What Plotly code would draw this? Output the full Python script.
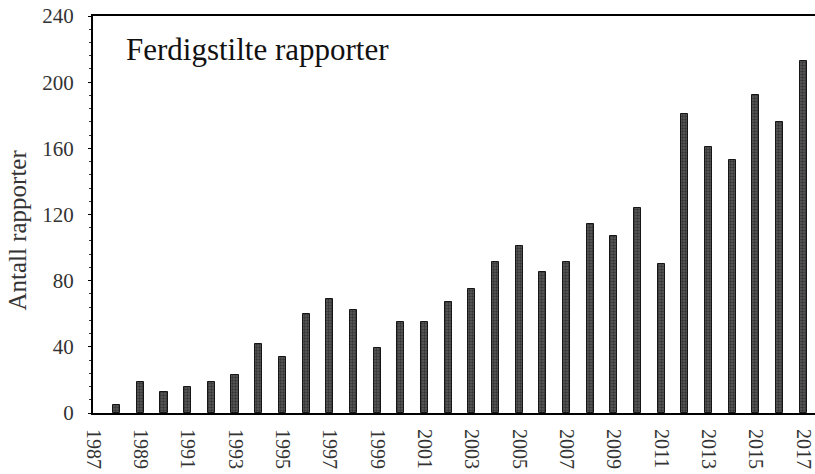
import plotly.graph_objects as go

years = list(range(1988, 2018))
reports = [5, 19, 13, 16, 19, 23, 42, 34, 60, 69, 62, 39,
           55, 55, 67, 75, 91, 101, 85, 91, 114, 107, 124, 90,
           181, 161, 153, 192, 176, 213]
tick_years = list(range(1987, 2018, 2))
title_text = "Ferdigstilte rapporter"
y_title = "Antall rapporter"

FONT = "Liberation Serif, Times New Roman, serif"

fig = go.Figure()
fig.add_trace(go.Bar(
    x=years, y=reports, width=0.3,
    marker=dict(color="#404040",
                line=dict(color="#151515", width=1),
                pattern=dict(shape=".", fgcolor="#0d0d0d", bgcolor="#5c5c5c",
                             size=3, solidity=0.5)),
))

fig.update_layout(
    width=815, height=474,
    margin=dict(l=93, r=0, t=16, b=61, autoexpand=False),
    paper_bgcolor="white", plot_bgcolor="white",
    showlegend=False,
    font=dict(family=FONT, color="#222222"),
    bargap=0,
)
fig.update_xaxes(
    range=[1987, 2017.5], tickmode="array", tickvals=tick_years,
    ticktext=[str(v) for v in tick_years], tickangle=90,
    tickfont=dict(size=20, family=FONT, color="#333333"),
    showline=True, linecolor="black", linewidth=2, mirror=True,
    showgrid=False, zeroline=False, ticks="", ticklabelstandoff=10,
    automargin=False,
)
fig.update_yaxes(
    range=[0, 240], dtick=40, tick0=0,
    tickfont=dict(size=21, family=FONT, color="#333333"),
    showline=True, linecolor="black", linewidth=2,
    showgrid=False, zeroline=False,
    ticks="outside", ticklen=3, tickcolor="black", tickwidth=1,
    ticklabelstandoff=10,
    minor=dict(dtick=8, ticks="outside", ticklen=2, tickcolor="#333333", tickwidth=1),
    automargin=False,
)
fig.add_annotation(
    x=0.043, y=0.915, xref="paper", yref="paper", xanchor="left", yanchor="middle",
    text=title_text, showarrow=False,
    font=dict(size=31, family=FONT, color="#111111"),
)
fig.add_annotation(
    x=-0.105, y=0.46, xref="paper", yref="paper", xanchor="center", yanchor="middle",
    text=y_title, textangle=-90, showarrow=False,
    font=dict(size=25, family=FONT, color="#333333"),
)

fig.write_html(
    "out.html",
    config={"displayModeBar": False},
    post_script="document.body.style.margin='0';document.body.style.overflow='hidden';",
)
